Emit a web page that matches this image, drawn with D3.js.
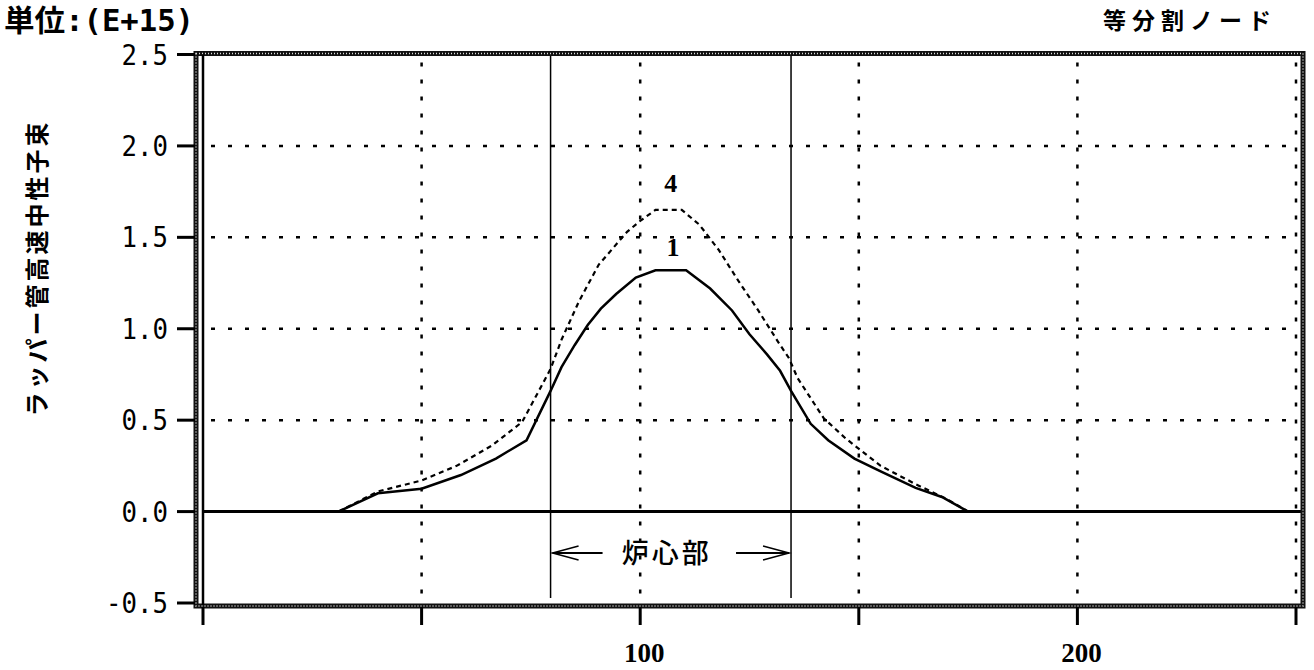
<!DOCTYPE html>
<html>
<head>
<meta charset="utf-8">
<script src="https://cdn.jsdelivr.net/npm/d3@7"></script>
<style>
  body { margin: 0; background: #fff; }
  svg { display: block; }
</style>
</head>
<body>
<div id="chart"></div>
<script>
// Data (node number -> flux, unit E+15)
const nodes1 = [31, 40, 50, 59, 67, 74, 79.5, 82, 85, 88, 91, 94.5, 99, 103.5, 110.5, 116, 121, 125, 129, 132, 134.5, 139, 143, 149, 155, 163, 169, 175];
const flux1 = [0, 0.10, 0.125, 0.20, 0.29, 0.39, 0.66, 0.79, 0.91, 1.02, 1.11, 1.19, 1.28, 1.32, 1.32, 1.22, 1.10, 0.97, 0.86, 0.77, 0.66, 0.48, 0.39, 0.29, 0.22, 0.13, 0.08, 0];

const nodes4 = [31, 40, 50, 58, 66, 73, 79.5, 82, 86, 90.5, 97, 100, 103.5, 109.5, 113.5, 118, 122.5, 127, 131.5, 134, 136, 142, 147, 155, 163, 170, 175];
const flux4 = [0, 0.11, 0.17, 0.25, 0.36, 0.49, 0.78, 0.94, 1.15, 1.35, 1.53, 1.59, 1.65, 1.65, 1.57, 1.43, 1.26, 1.10, 0.93, 0.84, 0.73, 0.51, 0.40, 0.25, 0.15, 0.07, 0];

const yTicks = [-0.5, 0, 0.5, 1.0, 1.5, 2.0, 2.5];
const yTickLabels = ["-0.5", "0.0", "0.5", "1.0", "1.5", "2.0", "2.5"];
const xTicks = [0, 50, 100, 150, 200, 250];
const xTickLabels = ["", "", "100", "", "200", ""];
const gridY = [0.5, 1.0, 1.5, 2.0];
const gridX = [50, 100, 150, 200, 250];

// core region boundaries (node)
const coreStart = 79.5;
const coreEnd = 134.5;

const curveLabels = [
  { text: "4", node: 107, value: 1.80 },
  { text: "1", node: 107.5, value: 1.45 },
];

const width = 1314;
const height = 670;

const svg = d3
  .select("#chart")
  .append("svg")
  .attr("width", width)
  .attr("height", height);

const xScale = d3.scaleLinear().domain([0, 250]).range([203, 1296]);
const yScale = d3.scaleLinear().domain([-0.5, 2.5]).range([603, 54.5]);

const x0 = xScale(0);
const x1 = xScale(250);
const yTop = yScale(2.5);
const yBot = yScale(-0.5);

// Dotted grid
svg
  .append("g")
  .selectAll("line")
  .data(gridY)
  .join("line")
  .attr("x1", x0 + 8)
  .attr("x2", x1)
  .attr("y1", (d) => yScale(d))
  .attr("y2", (d) => yScale(d))
  .attr("stroke", "#000")
  .attr("stroke-width", 2.5)
  .attr("stroke-dasharray", "4 13");

svg
  .append("g")
  .selectAll("line")
  .data(gridX)
  .join("line")
  .attr("x1", (d) => xScale(d))
  .attr("x2", (d) => xScale(d))
  .attr("y1", yTop + 8)
  .attr("y2", yBot)
  .attr("stroke", "#000")
  .attr("stroke-width", 2.5)
  .attr("stroke-dasharray", "4 13");

// Core region boundaries
svg
  .append("g")
  .selectAll("line")
  .data([coreStart, coreEnd])
  .join("line")
  .attr("x1", (d) => xScale(d))
  .attr("x2", (d) => xScale(d))
  .attr("y1", yTop)
  .attr("y2", yBot - 5)
  .attr("stroke", "#000")
  .attr("stroke-width", 1.5);

// Zero line
svg
  .append("line")
  .attr("x1", x0)
  .attr("x2", x1 + 6)
  .attr("y1", yScale(0))
  .attr("y2", yScale(0))
  .attr("stroke", "#000")
  .attr("stroke-width", 3);

// Frame: thick stippled band + thin inner line on the left
svg
  .append("rect")
  .attr("x", x0 - 7)
  .attr("y", yTop - 1)
  .attr("width", x1 - x0 + 14)
  .attr("height", yBot - yTop + 4)
  .attr("fill", "none")
  .attr("stroke", "#111")
  .attr("stroke-width", 5);

svg
  .append("rect")
  .attr("x", x0 - 7)
  .attr("y", yTop - 1)
  .attr("width", x1 - x0 + 14)
  .attr("height", yBot - yTop + 4)
  .attr("fill", "none")
  .attr("stroke", "#ddd")
  .attr("stroke-width", 1.5)
  .attr("stroke-dasharray", "1 2");

svg
  .append("line")
  .attr("x1", x0)
  .attr("x2", x0)
  .attr("y1", yTop)
  .attr("y2", yBot + 2)
  .attr("stroke", "#000")
  .attr("stroke-width", 2.5);

// Y axis ticks and labels
const yAxis = svg.append("g");
yAxis
  .selectAll("line")
  .data(yTicks)
  .join("line")
  .attr("x1", 177)
  .attr("x2", x0 - 8)
  .attr("y1", (d) => yScale(d))
  .attr("y2", (d) => yScale(d))
  .attr("stroke", "#000")
  .attr("stroke-width", 3);

yAxis
  .selectAll("text")
  .data(yTicks)
  .join("text")
  .attr("x", 168)
  .attr("y", (d) => yScale(d) + 10)
  .attr("text-anchor", "end")
  .attr("textLength", (d, i) => yTickLabels[i].length * 15.5)
  .attr("lengthAdjust", "spacingAndGlyphs")
  .style("font-family", "'DejaVu Sans Mono', monospace")
  .style("font-size", "28px")
  .text((d, i) => yTickLabels[i]);

// X axis ticks and labels
const xAxis = svg.append("g");
xAxis
  .selectAll("line")
  .data(xTicks)
  .join("line")
  .attr("x1", (d) => xScale(d))
  .attr("x2", (d) => xScale(d))
  .attr("y1", yBot + 4)
  .attr("y2", yBot + 22)
  .attr("stroke", "#000")
  .attr("stroke-width", 3);

xAxis
  .selectAll("text")
  .data(xTicks)
  .join("text")
  .attr("x", (d) => xScale(d) + 4)
  .attr("y", 662)
  .attr("text-anchor", "middle")
  .style("font-family", "'Liberation Serif', serif")
  .style("font-weight", "bold")
  .style("font-size", "27px")
  .text((d, i) => xTickLabels[i]);

// Curves
const line = d3
  .line()
  .x((d) => xScale(d[0]))
  .y((d) => yScale(d[1]));

svg
  .append("path")
  .datum(d3.zip(nodes4, flux4))
  .attr("fill", "none")
  .attr("stroke", "#000")
  .attr("stroke-width", 2.2)
  .attr("stroke-dasharray", "5 4")
  .attr("d", line);

svg
  .append("path")
  .datum(d3.zip(nodes1, flux1))
  .attr("fill", "none")
  .attr("stroke", "#000")
  .attr("stroke-width", 2.5)
  .attr("d", line);

svg
  .append("g")
  .selectAll("text")
  .data(curveLabels)
  .join("text")
  .attr("x", (d) => xScale(d.node))
  .attr("y", (d) => yScale(d.value) + 10)
  .attr("text-anchor", "middle")
  .style("font-family", "'Liberation Serif', serif")
  .style("font-weight", "bold")
  .style("font-size", "26px")
  .text((d) => d.text);

// Core region annotation with arrows
const arrowY = 553;
const cx1 = xScale(coreStart);
const cx2 = xScale(coreEnd);
const arrows = svg.append("g").attr("stroke", "#000").attr("fill", "none");
arrows
  .append("path")
  .attr("stroke-width", 2)
  .attr("d", `M${cx1 + 52},${arrowY} L${cx1 + 2},${arrowY}`);
arrows
  .append("path")
  .attr("stroke-width", 1.5)
  .attr("d", `M${cx1 + 28},${arrowY - 7} L${cx1 + 2},${arrowY} L${cx1 + 28},${arrowY + 7}`);
arrows
  .append("path")
  .attr("stroke-width", 2)
  .attr("d", `M${cx2 - 55},${arrowY} L${cx2 - 2},${arrowY}`);
arrows
  .append("path")
  .attr("stroke-width", 1.5)
  .attr("d", `M${cx2 - 28},${arrowY - 7} L${cx2 - 2},${arrowY} L${cx2 - 28},${arrowY + 7}`);

svg
  .append("text")
  .attr("x", (cx1 + cx2) / 2 - 4)
  .attr("y", arrowY + 10)
  .attr("text-anchor", "middle")
  .style("font-family", "'Noto Sans CJK JP', sans-serif")
  .style("font-size", "27px")
  .style("font-weight", "500")
  .style("letter-spacing", "3px")
  .text("炉心部");

// Titles
svg
  .append("text")
  .attr("x", 4)
  .attr("y", 31)
  .attr("textLength", 190)
  .attr("lengthAdjust", "spacingAndGlyphs")
  .style("font-family", "'DejaVu Sans Mono', 'Noto Sans CJK JP', monospace")
  .style("font-weight", "bold")
  .style("font-size", "30px")
  .text("単位:(E+15)");

svg
  .append("text")
  .attr("x", 1277)
  .attr("y", 29)
  .attr("text-anchor", "end")
  .style("font-family", "'Noto Sans CJK JP', sans-serif")
  .style("font-weight", "bold")
  .style("font-size", "23px")
  .style("letter-spacing", "6px")
  .text("等分割ノード");

svg
  .append("text")
  .attr("transform", "translate(46,268) rotate(-90)")
  .attr("text-anchor", "middle")
  .style("font-family", "'Noto Sans CJK JP', sans-serif")
  .style("font-weight", "bold")
  .style("font-size", "24px")
  .style("letter-spacing", "3px")
  .text("ラッパー管高速中性子束");
</script>
